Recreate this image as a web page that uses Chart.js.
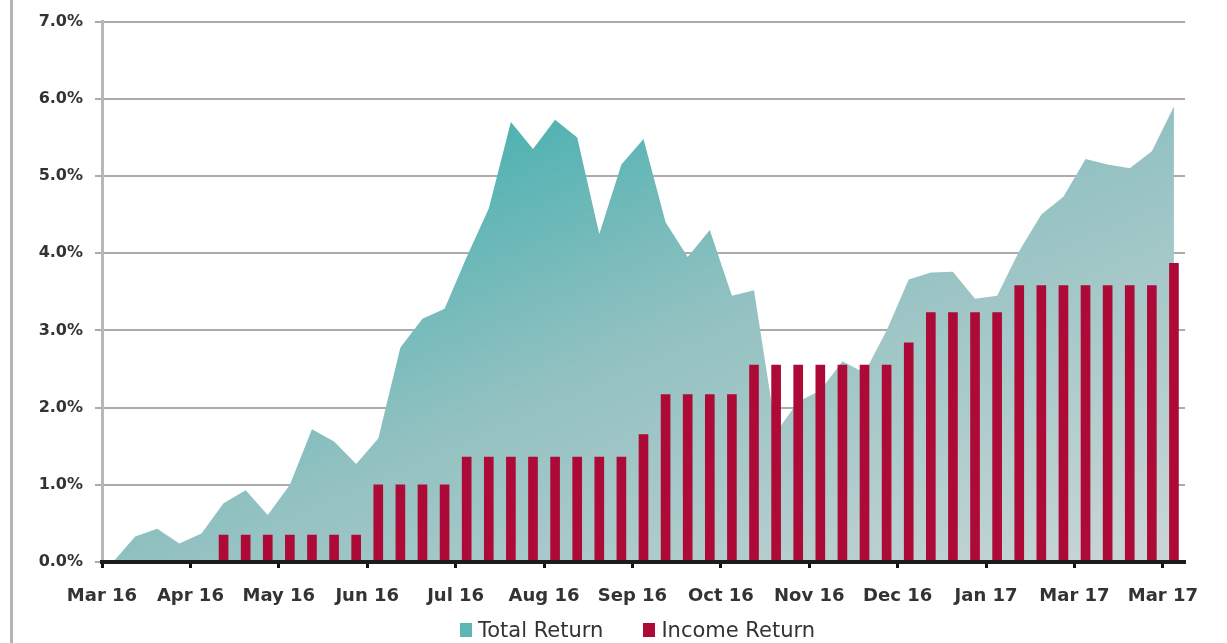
<!DOCTYPE html>
<html>
<head>
<meta charset="utf-8">
<title>Total vs Income Return</title>
<script src="https://cdn.jsdelivr.net/npm/chart.js@4.4.1/dist/chart.umd.min.js"></script>
<style>
  html, body { margin: 0; padding: 0; background: #fff; overflow: hidden; }
  #wrap { position: relative; width: 1227px; height: 643px; }
  #edge { position: absolute; left: 10px; top: 0; width: 3px; height: 643px; background: #b4b4b4; }
  #legend { position: absolute; left: 460px; top: 618px; display: flex; align-items: center;
            font-family: "DejaVu Sans", sans-serif; font-size: 21px; color: #333; white-space: nowrap; }
  #legend .item { display: flex; align-items: center; margin-right: 40px; }
  #legend .box { width: 12px; height: 14px; margin-right: 6px; }
</style>
</head>
<body>
<div id="wrap">
  <canvas id="returnsChart"></canvas>
  <div id="edge"></div>
  <div id="legend"></div>
</div>
<script>
// tick labels every 4 weeks
const tickLabels = ["Mar 16", "Apr 16", "May 16", "Jun 16", "Jul 16", "Aug 16", "Sep 16",
                    "Oct 16", "Nov 16", "Dec 16", "Jan 17", "Mar 17", "Mar 17"];

const seriesNames = ["Total Return", "Income Return"];

// weekly cumulative total return, %
const totalReturn = [0, 0.33, 0.43, 0.24, 0.37, 0.76, 0.93, 0.61, 1.0, 1.72,
                     1.56, 1.27, 1.6, 2.78, 3.15, 3.28, 3.95, 4.58, 5.7, 5.35,
                     5.73, 5.5, 4.25, 5.15, 5.48, 4.4, 3.95, 4.3, 3.45, 3.52,
                     1.68, 2.08, 2.22, 2.6, 2.45, 3.0, 3.66, 3.75, 3.76, 3.41,
                     3.45, 4.03, 4.5, 4.73, 5.22, 5.15, 5.1, 5.32, 5.9];

// weekly cumulative income return, %
const incomeReturn = [null, null, null, null, null, 0.35, 0.35, 0.35, 0.35, 0.35,
                      0.35, 0.35, 1.0, 1.0, 1.0, 1.0, 1.36, 1.36, 1.36, 1.36,
                      1.36, 1.36, 1.36, 1.36, 1.65, 2.17, 2.17, 2.17, 2.17, 2.55,
                      2.55, 2.55, 2.55, 2.55, 2.55, 2.55, 2.84, 3.23, 3.23, 3.23,
                      3.23, 3.58, 3.58, 3.58, 3.58, 3.58, 3.58, 3.58, 3.87];

const weeks = totalReturn.length;
const tealColor = "#5fb4b4";
const redColor = "#ad0a37";

// teal at the top fading to grey towards the bottom right
function areaFill(context) {
    const area = context.chart.chartArea;
    if (!area) return tealColor;
    const g = context.chart.ctx.createLinearGradient(
        area.left + area.width * 0.367, area.top + area.height * 0.2,
        area.left + area.width * 0.602, area.top + area.height * 1.294);
    g.addColorStop(0, "#50b2b2");
    g.addColorStop(0.39, "#92c1c1");
    g.addColorStop(1, "#c8d5d5");
    return g;
}

new Chart(document.getElementById("returnsChart"), {
    data: {
        datasets: [{
            type: "bar",
            label: seriesNames[1],
            data: incomeReturn.map((v, i) => ({ x: i + 0.5, y: v })),
            backgroundColor: redColor,
            barThickness: 9,
            order: 1
        }, {
            type: "line",
            label: seriesNames[0],
            data: totalReturn.map((v, i) => ({ x: i + 0.5, y: v })),
            fill: "origin",
            backgroundColor: areaFill,
            borderWidth: 0,
            pointRadius: 0,
            tension: 0,
            order: 2
        }]
    },
    options: {
        responsive: true,
        maintainAspectRatio: false,
        animation: false,
        layout: { padding: { top: 21, right: 42, left: 0, bottom: 0 } },
        scales: {
            x: {
                type: "linear",
                min: 0,
                max: weeks,
                offset: false,
                afterFit: s => { s.height = 81; },
                afterBuildTicks: s => { s.ticks = tickLabels.map((_, k) => ({ value: k * 4 })); },
                grid: { z: 1, offset: false, drawOnChartArea: false, drawTicks: true, tickLength: 6, tickWidth: 3, tickColor: "#111" },
                border: { z: 1, color: "#1c1c1c", width: 4 },
                ticks: {
                    autoSkip: false,
                    maxRotation: 0,
                    padding: 18,
                    color: "#333",
                    font: { family: "DejaVu Sans", size: 18, weight: "bold" },
                    callback: v => tickLabels[Math.round(v / 4)]
                }
            },
            y: {
                min: 0,
                max: 7,
                afterFit: s => { s.width = 102; },
                grid: { color: "#ababab", lineWidth: 2, tickLength: 7 },
                border: { color: "#b8b8b8", width: 3 },
                ticks: {
                    stepSize: 1,
                    padding: 12,
                    color: "#333",
                    font: { family: "DejaVu Sans", size: 16, weight: "bold" },
                    callback: v => v.toFixed(1) + "%"
                }
            }
        },
        plugins: {
            tooltip: { enabled: false },
            legend: { display: false }
        }
    }
});

// legend under the axis
const legendEl = document.getElementById("legend");
[tealColor, redColor].forEach((c, k) => {
    const item = document.createElement("span");
    item.className = "item";
    const box = document.createElement("span");
    box.className = "box";
    box.style.background = c;
    item.appendChild(box);
    item.appendChild(document.createTextNode(seriesNames[k]));
    legendEl.appendChild(item);
});
</script>
</body>
</html>
